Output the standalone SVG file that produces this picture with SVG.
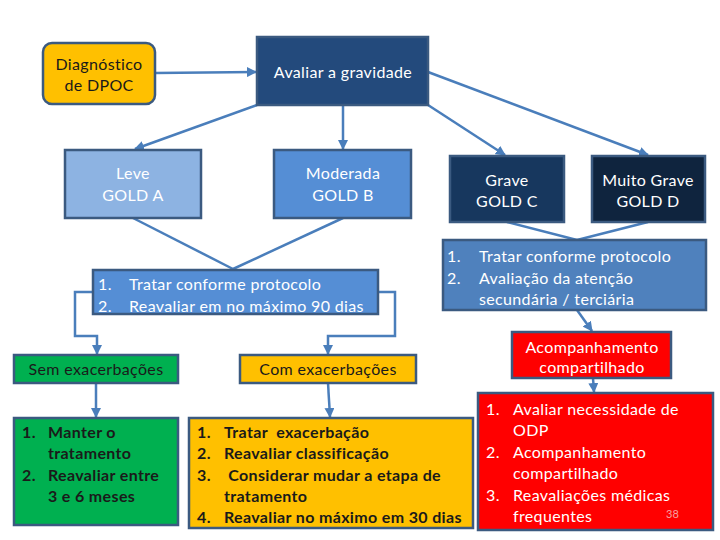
<svg xmlns="http://www.w3.org/2000/svg" width="720" height="540" viewBox="0 0 720 540">
<defs>
<style>
.t{font-family:Lato,"Liberation Sans",sans-serif;font-size:16px;letter-spacing:0.35px;white-space:pre}
.w{fill:#ffffff}
.d{fill:#1a1a1a}
.b{font-weight:bold}
.box{stroke:#3b5a80;stroke-width:2.5}
.c{fill:none;stroke:#4a7ebb;stroke-width:2.5}
</style>
<marker id="ah" viewBox="0 0 10 10" refX="9" refY="5" markerWidth="4" markerHeight="4" orient="auto" markerUnits="strokeWidth">
<path d="M0,0 L10,5 L0,10 z" fill="#4a7ebb"/>
</marker>
</defs>
<rect width="720" height="540" fill="#ffffff"/>
<g id="connectors">
<line class="c" x1="155" y1="73" x2="256" y2="72" marker-end="url(#ah)"/>
<line class="c" x1="257" y1="105" x2="135" y2="149" marker-end="url(#ah)"/>
<line class="c" x1="343" y1="105" x2="343" y2="149" marker-end="url(#ah)"/>
<line class="c" x1="428" y1="105" x2="505" y2="155" marker-end="url(#ah)"/>
<line class="c" x1="428" y1="72" x2="648" y2="155" marker-end="url(#ah)"/>
<line class="c" x1="133" y1="218" x2="233" y2="269"/>
<line class="c" x1="343" y1="218" x2="233" y2="269"/>
<line class="c" x1="507" y1="222" x2="577" y2="240"/>
<line class="c" x1="648" y1="222" x2="577" y2="240"/>
<polyline class="c" points="93,292 75,292 75,336 97,336 97,354" marker-end="url(#ah)"/>
<polyline class="c" points="378,292 395,292 395,336 328,336 328,354" marker-end="url(#ah)"/>
<line class="c" x1="96" y1="383" x2="96" y2="417" marker-end="url(#ah)"/>
<line class="c" x1="328" y1="383" x2="330" y2="417" marker-end="url(#ah)"/>
<line class="c" x1="577" y1="310" x2="592" y2="331" marker-end="url(#ah)"/>
<line class="c" x1="593" y1="378" x2="594" y2="392" marker-end="url(#ah)"/>
</g>
<g id="diagnostico">
<rect class="box" x="43" y="43" width="112" height="61" rx="9" fill="#FFC000"/>
<text class="t d" x="99" y="70" text-anchor="middle">Diagnóstico</text>
<text class="t d" x="99" y="91" text-anchor="middle">de DPOC</text>
</g>
<g id="avaliar">
<rect class="box" x="257" y="37" width="171" height="68" fill="#234a7c"/>
<text class="t w" x="343" y="78" text-anchor="middle">Avaliar a gravidade</text>
</g>
<g id="leve">
<rect class="box" x="65" y="150" width="136" height="68" fill="#8DB3E2"/>
<text class="t w" x="133" y="179" text-anchor="middle">Leve</text>
<text class="t w" x="133" y="201" text-anchor="middle">GOLD A</text>
</g>
<g id="moderada">
<rect class="box" x="274" y="150" width="137" height="68" fill="#558ED5"/>
<text class="t w" x="343" y="179" text-anchor="middle">Moderada</text>
<text class="t w" x="343" y="201" text-anchor="middle">GOLD B</text>
</g>
<g id="grave">
<rect class="box" x="450" y="156" width="114" height="66" fill="#17375E"/>
<text class="t w" x="507" y="186" text-anchor="middle">Grave</text>
<text class="t w" x="507" y="207" text-anchor="middle">GOLD C</text>
</g>
<g id="muito-grave">
<rect class="box" x="592" y="156" width="113" height="66" fill="#0F243E"/>
<text class="t w" x="648" y="186" text-anchor="middle">Muito Grave</text>
<text class="t w" x="648" y="207" text-anchor="middle">GOLD D</text>
</g>
<g id="tratar-90">
<rect class="box" x="93" y="270" width="285" height="44" fill="#558ED5"/>
<text class="t w" x="98" y="290">1.</text>
<text class="t w" x="129" y="290">Tratar conforme protocolo</text>
<text class="t w" x="98" y="312">2.</text>
<text class="t w" x="129" y="312">Reavaliar em no máximo 90 dias</text>
</g>
<g id="tratar-atencao">
<rect class="box" x="443" y="240" width="263" height="70" fill="#4F81BD"/>
<text class="t w" x="447" y="262">1.</text>
<text class="t w" x="479" y="262">Tratar conforme protocolo</text>
<text class="t w" x="447" y="284">2.</text>
<text class="t w" x="479" y="284">Avaliação da atenção</text>
<text class="t w" x="479" y="305">secundária / terciária</text>
</g>
<g id="sem-exacerbacoes">
<rect class="box" x="14" y="355" width="164" height="28" fill="#00B050"/>
<text class="t d" x="96" y="375" text-anchor="middle">Sem exacerbações</text>
</g>
<g id="com-exacerbacoes">
<rect class="box" x="240" y="355" width="176" height="28" fill="#FFC000"/>
<text class="t d" x="328" y="375" text-anchor="middle">Com exacerbações</text>
</g>
<g id="acompanhamento">
<rect class="box" x="512" y="332" width="159" height="46" fill="#FF0000"/>
<text class="t w" x="592" y="353" text-anchor="middle">Acompanhamento</text>
<text class="t w" x="592" y="373" text-anchor="middle">compartilhado</text>
</g>
<g id="manter">
<rect class="box" x="14" y="418" width="164" height="107" fill="#00B050"/>
<text class="t d b" x="22" y="438">1.</text>
<text class="t d b" x="48" y="438">Manter o</text>
<text class="t d b" x="48" y="459">tratamento</text>
<text class="t d b" x="22" y="481">2.</text>
<text class="t d b" x="48" y="481">Reavaliar entre</text>
<text class="t d b" x="48" y="502">3 e 6 meses</text>
</g>
<g id="tratar-exacerbacao">
<rect class="box" x="189" y="418" width="284" height="110" fill="#FFC000"/>
<text class="t d b" x="197" y="438">1.</text>
<text class="t d b" x="224" y="438">Tratar  exacerbação</text>
<text class="t d b" x="197" y="459">2.</text>
<text class="t d b" x="224" y="459">Reavaliar classificação</text>
<text class="t d b" x="197" y="481">3.</text>
<text class="t d b" x="224" y="481"> Considerar mudar a etapa de</text>
<text class="t d b" x="224" y="502">tratamento</text>
<text class="t d b" x="197" y="523">4.</text>
<text class="t d b" x="224" y="523">Reavaliar no máximo em 30 dias</text>
</g>
<g id="avaliar-odp">
<rect class="box" x="478" y="393" width="235" height="137" fill="#FF0000"/>
<text class="t w" x="486" y="415">1.</text>
<text class="t w" x="513" y="415">Avaliar necessidade de</text>
<text class="t w" x="513" y="436">ODP</text>
<text class="t w" x="486" y="458">2.</text>
<text class="t w" x="513" y="458">Acompanhamento</text>
<text class="t w" x="513" y="479">compartilhado</text>
<text class="t w" x="486" y="501">3.</text>
<text class="t w" x="513" y="501">Reavaliações médicas</text>
<text class="t w" x="513" y="522">frequentes</text>
<text x="666" y="518" font-family="Lato,'Liberation Sans',sans-serif" font-size="11" fill="#f4a0a0">38</text>
</g>
</svg>
